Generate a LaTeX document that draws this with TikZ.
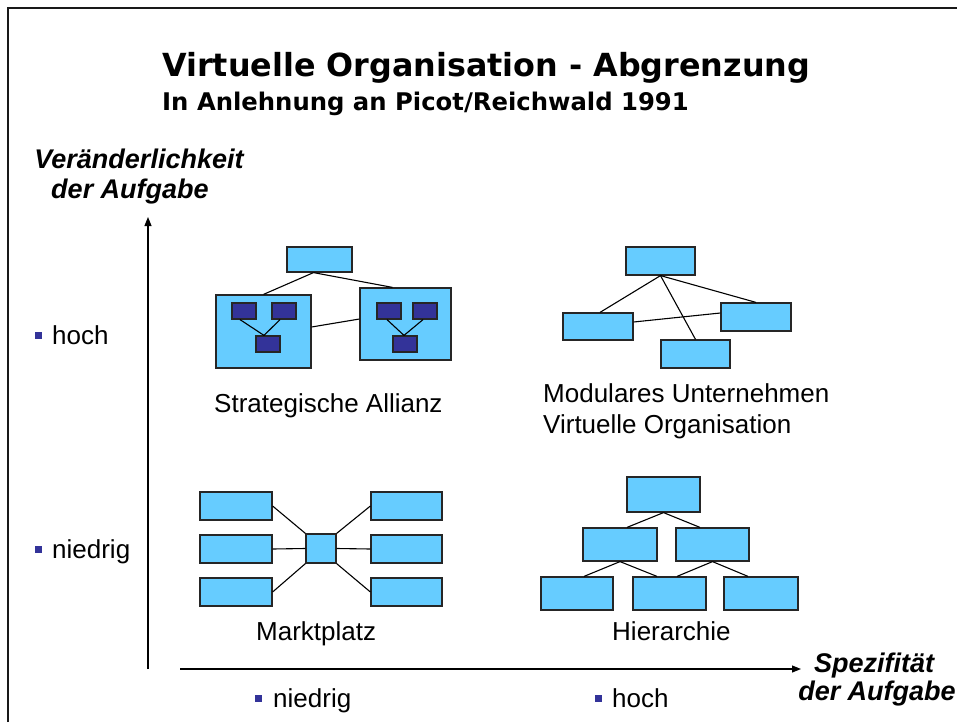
\documentclass[tikz,border=0pt]{standalone}
\usepackage{fontspec}
\setmainfont{Liberation Sans}
\newfontfamily\headfont{DejaVu Sans}
\usetikzlibrary{arrows.meta}
\definecolor{boxblue}{HTML}{66CCFF}
\definecolor{deepblue}{HTML}{333399}
\begin{document}
\begin{tikzpicture}[x=1pt,y=-1pt,
  lbox/.style={draw=black!85, fill=boxblue, line width=1.2pt, inner sep=0pt},
  dbox/.style={draw=black!85, fill=deepblue, line width=1.2pt, inner sep=0pt,
    minimum width=24pt, minimum height=16pt},
  link/.style={draw=black, line width=1.1pt},
  axis/.style={draw=black, line width=1.1pt, -{Triangle[length=9pt,width=7pt]}},
  bul/.style={fill=deepblue, inner sep=0pt, minimum size=7pt},
  lbl/.style={font=\fontsize{26}{30}\selectfont, inner sep=0pt, anchor=base west},
  axlbl/.style={font=\fontsize{27}{30}\selectfont\bfseries\itshape, inner sep=0pt, anchor=base},
]
\useasboundingbox (0,0) rectangle (957,722);

% page frame
\draw[line width=2pt, black!90] (8,722) -- (8,8) -- (957,8);

% headings
\node[inner sep=0pt, anchor=base west, font=\headfont\bfseries\fontsize{31.8}{36}\selectfont]
  (title) at (162,77) {Virtuelle Organisation - Abgrenzung};
\node[inner sep=0pt, anchor=base west, font=\headfont\bfseries\fontsize{24.3}{28}\selectfont]
  (subtitle) at (162,111) {In Anlehnung an Picot/Reichwald 1991};

% axes
\coordinate (yfoot) at (148,669);
\coordinate (ytip) at (148,217);
\coordinate (xfoot) at (180,669);
\coordinate (xtip) at (801,669);
\draw[axis] (yfoot) -- (ytip);
\draw[axis] (xfoot) -- (xtip);

\node[axlbl] (ylab1) at (139,168) {Veränderlichkeit};
\node[axlbl] (ylab2) at (130,198) {der Aufgabe};
\node[axlbl] (xlab1) at (874,672) {Spezifität};
\node[axlbl] (xlab2) at (877,700) {der Aufgabe};

% scale marks
\node[bul] (bh) at (38.5,335.5) {};
\node[lbl] (th) at (52,344) {hoch};
\node[bul] (bn) at (38.5,549) {};
\node[lbl] (tn) at (52,558) {niedrig};
\node[bul] (bxn) at (258,698.5) {};
\node[lbl] (txn) at (273,707) {niedrig};
\node[bul] (bxh) at (598,698.5) {};
\node[lbl] (txh) at (612,707) {hoch};

% Strategische Allianz
\node[lbox, minimum width=65pt, minimum height=25pt] (sa-top) at (319.5,259.5) {};
\node[lbox, minimum width=95pt, minimum height=73pt] (sa-L) at (263.5,331.5) {};
\node[lbox, minimum width=91pt, minimum height=72pt] (sa-R) at (405.5,324) {};
\node[dbox] (sa-L1) at (244,311) {};
\node[dbox] (sa-L2) at (284,311) {};
\node[dbox] (sa-L3) at (268,344) {};
\node[dbox] (sa-R1) at (389,311) {};
\node[dbox] (sa-R2) at (425,311) {};
\node[dbox] (sa-R3) at (405,344) {};
\draw[link] ([xshift=-6pt]sa-top.south) -- (sa-L.north);
\draw[link] ([xshift=-6pt]sa-top.south) -- ([xshift=-13pt]sa-R.north);
\draw[link] ([yshift=4.5pt]sa-L.east) -- ([yshift=5pt]sa-R.west);
\draw[link] ([xshift=-4pt]sa-L1.south) -- ([xshift=-4pt]sa-L3.north);
\draw[link] ([xshift=-4pt]sa-L2.south) -- ([xshift=-4pt]sa-L3.north);
\draw[link] ([xshift=-2pt]sa-R1.south) -- ([xshift=-1pt]sa-R3.north);
\draw[link] ([xshift=-2pt]sa-R2.south) -- ([xshift=-1pt]sa-R3.north);
\node[lbl] (sa-text) at (214,412) {Strategische Allianz};

% Modulares Unternehmen
\node[lbox, minimum width=69pt, minimum height=28pt] (mu-top) at (660.5,261) {};
\node[lbox, minimum width=70pt, minimum height=27pt] (mu-L) at (598,326.5) {};
\node[lbox, minimum width=70pt, minimum height=28pt] (mu-R) at (756,317) {};
\node[lbox, minimum width=69pt, minimum height=28pt] (mu-B) at (695.5,354) {};
\draw[link] (mu-top.south) -- ([xshift=2pt]mu-L.north);
\draw[link] (mu-top.south) -- (mu-R.north);
\draw[link] (mu-top.south) -- (mu-B.north);
\draw[link] ([yshift=4.5pt]mu-L.east) -- ([yshift=4pt]mu-R.west);
\node[lbl] (mu-text1) at (543,402) {Modulares Unternehmen};
\node[lbl] (mu-text2) at (543,433) {Virtuelle Organisation};

% Marktplatz
\node[lbox, minimum width=72pt, minimum height=28pt] (mp-L1) at (236,506) {};
\node[lbox, minimum width=72pt, minimum height=28pt] (mp-L2) at (236,549) {};
\node[lbox, minimum width=72pt, minimum height=28pt] (mp-L3) at (236,592) {};
\node[lbox, minimum width=71pt, minimum height=28pt] (mp-R1) at (406.5,506) {};
\node[lbox, minimum width=71pt, minimum height=28pt] (mp-R2) at (406.5,549) {};
\node[lbox, minimum width=71pt, minimum height=28pt] (mp-R3) at (406.5,592) {};
\node[lbox, minimum width=30pt, minimum height=29pt] (mp-C) at (321,548.5) {};
\draw[link] (mp-L1.east) -- (mp-C.north west);
\draw[link] (mp-L2.east) -- (mp-C.west);
\draw[link] (mp-L3.east) -- (mp-C.south west);
\draw[link] (mp-R1.west) -- (mp-C.north east);
\draw[link] (mp-R2.west) -- (mp-C.east);
\draw[link] (mp-R3.west) -- (mp-C.south east);
\node[lbl] (mp-text) at (256,640) {Marktplatz};

% Hierarchie
\node[lbox, minimum width=73pt, minimum height=35pt] (h-top) at (663.5,494.5) {};
\node[lbox, minimum width=74pt, minimum height=33pt] (h-M1) at (620,544.5) {};
\node[lbox, minimum width=73pt, minimum height=33pt] (h-M2) at (712.5,544.5) {};
\node[lbox, minimum width=72pt, minimum height=33pt] (h-B1) at (577,593.5) {};
\node[lbox, minimum width=73pt, minimum height=33pt] (h-B2) at (669.5,593.5) {};
\node[lbox, minimum width=74pt, minimum height=33pt] (h-B3) at (761,593.5) {};
\draw[link] (h-top.south) -- ([xshift=7pt]h-M1.north);
\draw[link] (h-top.south) -- ([xshift=-12.5pt]h-M2.north);
\draw[link] (h-M1.south) -- ([xshift=7pt]h-B1.north);
\draw[link] (h-M1.south) -- ([xshift=-12.5pt]h-B2.north);
\draw[link] (h-M2.south) -- ([xshift=7.5pt]h-B2.north);
\draw[link] (h-M2.south) -- ([xshift=-13pt]h-B3.north);
\node[lbl] (h-text) at (612,640) {Hierarchie};
\end{tikzpicture}
\end{document}
